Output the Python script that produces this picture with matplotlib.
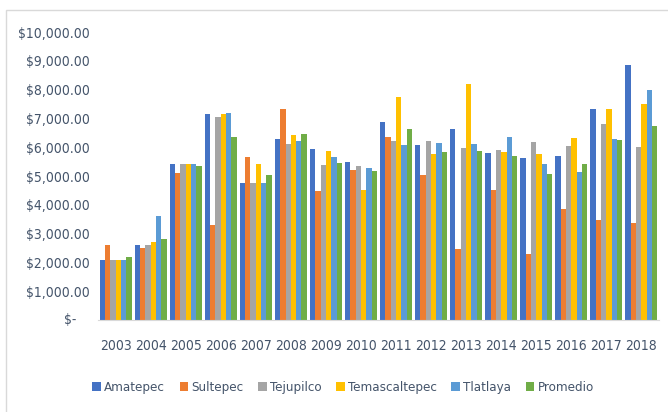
import numpy as np
import matplotlib
matplotlib.use('Agg')
import matplotlib.pyplot as plt
from matplotlib.ticker import FuncFormatter
from matplotlib.patches import Rectangle

plt.rcParams['font.family'] = ['DejaVu Sans']
plt.rcParams['font.stretch'] = 'condensed'

years = ['2003', '2004', '2005', '2006', '2007', '2008', '2009', '2010',
         '2011', '2012', '2013', '2014', '2015', '2016', '2017', '2018']

amatepec      = [2100, 2600, 5400, 7150, 4750, 6300, 5950, 5490, 6880, 6080, 6630, 5800, 5630, 5690, 7330, 8850]
sultepec      = [2600, 2500, 5100, 3300, 5650, 7330, 4480, 5210, 6350, 5040, 2470, 4510, 2290, 3850, 3470, 3370]
tejupilco     = [2100, 2600, 5400, 7050, 4750, 6100, 5380, 5350, 6220, 6220, 5970, 5900, 6180, 6040, 6810, 6010]
temascaltepec = [2100, 2700, 5400, 7150, 5400, 6420, 5870, 4510, 7740, 5760, 8190, 5830, 5760, 6320, 7330, 7500]
tlatlaya      = [2100, 3600, 5400, 7200, 4750, 6200, 5660, 5280, 6080, 6150, 6110, 6350, 5420, 5140, 6280, 7990]
promedio      = [2200, 2800, 5350, 6350, 5050, 6460, 5450, 5170, 6630, 5830, 5870, 5690, 5070, 5420, 6250, 6740]

series = [('Amatepec', amatepec, '#4472C4'),
          ('Sultepec', sultepec, '#ED7D31'),
          ('Tejupilco', tejupilco, '#A5A5A5'),
          ('Temascaltepec', temascaltepec, '#FFC000'),
          ('Tlatlaya', tlatlaya, '#5B9BD5'),
          ('Promedio', promedio, '#70AD47')]

txt = '#44546A'

fig = plt.figure(figsize=(6.68, 4.12), dpi=100)
ax = fig.add_axes([0.1467, 0.2233, 0.8398, 0.699])

x = np.arange(len(years))
w = 0.152
for i, (name, vals, col) in enumerate(series):
    ax.bar(x + (i - 2.5) * w, vals, width=w, color=col, label=name, linewidth=0)

ax.set_xlim(-0.5, len(years) - 0.5)
ax.set_ylim(0, 10000)
ax.set_yticks(np.arange(0, 10001, 1000))

def money(v, pos):
    if v == 0:
        return ''
    return '${:,.2f}'.format(v)

ax.yaxis.set_major_formatter(FuncFormatter(money))
# accounting style zero: "$-" sits left of the other labels' right edge
ax.text(-0.039, 0, '$-', transform=ax.get_yaxis_transform(), ha='right', va='center',
        fontsize=10, color=txt)
ax.set_xticks(x)
ax.set_xticklabels(years)
ax.tick_params(axis='both', length=0, labelsize=10, colors=txt)
ax.tick_params(axis='x', pad=14)
ax.tick_params(axis='y', pad=6)

for s in ['top', 'right', 'left']:
    ax.spines[s].set_visible(False)
ax.spines['bottom'].set_color('#D9D9D9')

ax.legend(loc='upper center', bbox_to_anchor=(0.437, -0.172), ncol=6, frameon=False,
          fontsize=9.5, handlelength=0.65, handleheight=0.65, handletextpad=0.25,
          columnspacing=1.1, labelcolor=txt)

fig.patches.append(Rectangle((0.009, -0.05), 1.2, 1.025, transform=fig.transFigure,
                             fill=False, edgecolor='#D9D9D9', linewidth=1))

plt.savefig('out.png', dpi=100)
